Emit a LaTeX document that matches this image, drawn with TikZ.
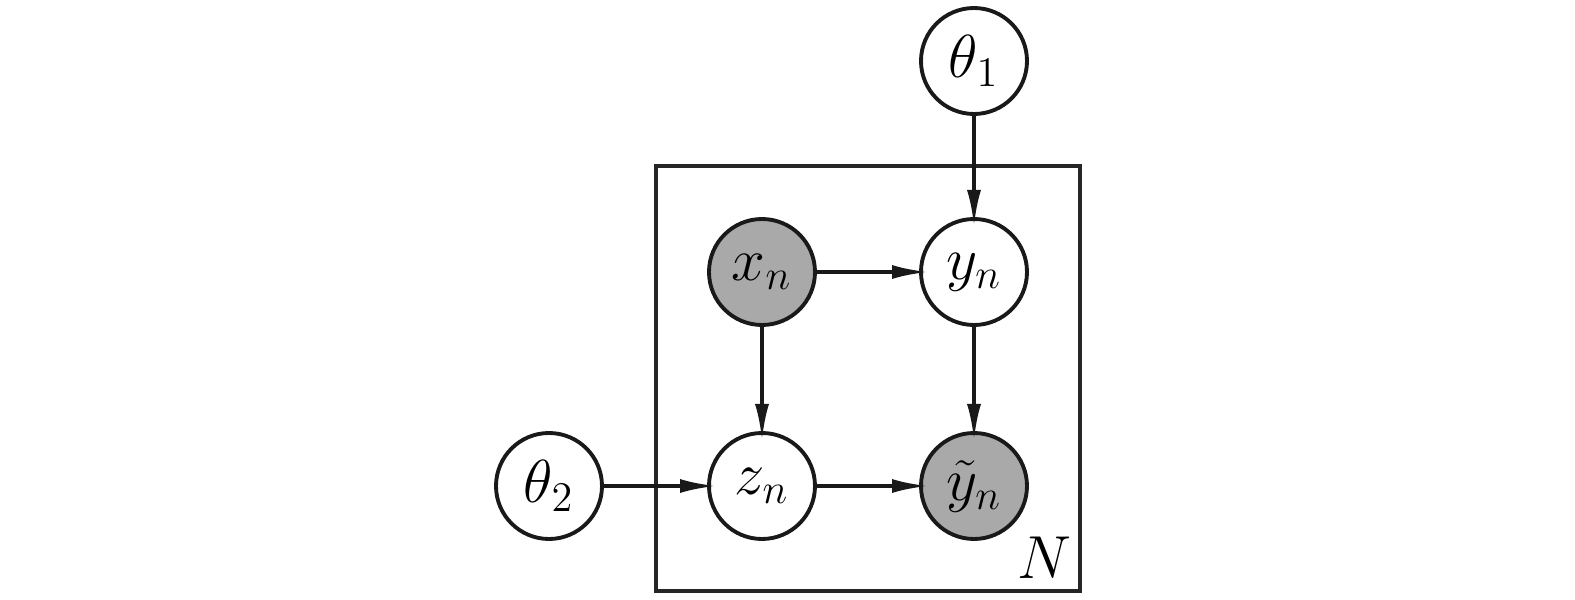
\documentclass[tikz,border=0pt]{standalone}
\usepackage{amsmath}
\usetikzlibrary{arrows.meta}
\definecolor{obsgray}{HTML}{A9A9A9}
\begin{document}
\begin{tikzpicture}[
  latent/.style={circle,draw=black!90,line width=1.1pt,fill=white,minimum size=1.06cm,inner sep=0pt,outer sep=0pt,font=\LARGE},
  observed/.style={latent,fill=obsgray},
  edge/.style={line width=1pt,draw=black!90,-{Latex[length=3.6mm,width=1.4mm]},shorten >=-0.07cm}]
\useasboundingbox (0,0) rectangle (15.75,6);
\draw[line width=1pt,black!85] (6.56,0.09) rectangle (10.80,4.34);
\node at (10.44,0.42) {\LARGE $N$};
\node[latent] (theta1) at (9.74,5.39) {$\theta_1$};
\node[observed] (xn) at (7.62,3.28) {$x_n$};
\node[latent] (yn) at (9.74,3.28) {$y_n$};
\node[latent] (zn) at (7.62,1.14) {$z_n$};
\node[observed] (ytn) at (9.74,1.14) {$\tilde{y}_n$};
\node[latent] (theta2) at (5.49,1.14) {$\theta_2$};
\draw[edge] (theta1) -- (yn);
\draw[edge] (xn) -- (yn);
\draw[edge] (xn) -- (zn);
\draw[edge] (yn) -- (ytn);
\draw[edge] (zn) -- (ytn);
\draw[edge] (theta2) -- (zn);
\end{tikzpicture}
\end{document}
